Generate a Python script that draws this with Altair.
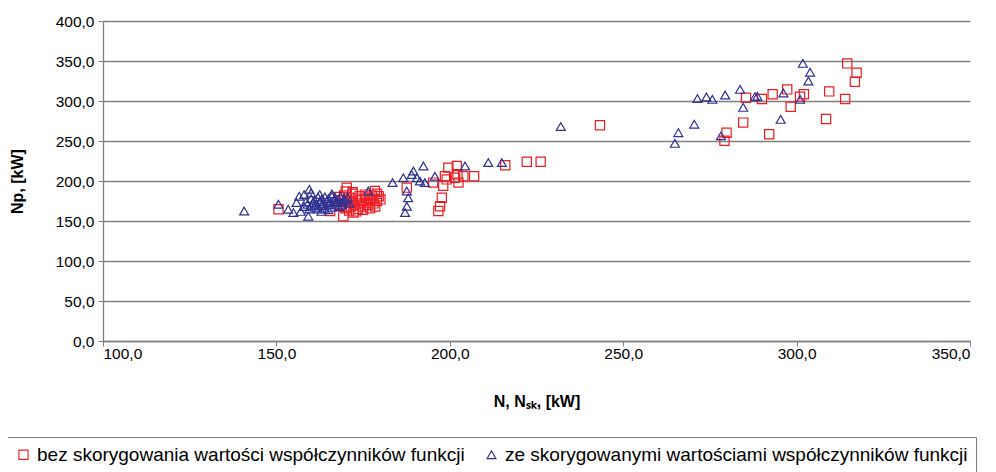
import altair as alt
import pandas as pd

series_names = [
    "bez skorygowania wartości współczynników funkcji",
    "ze skorygowanymi wartościami współczynników funkcji",
]

# red squares: bez skorygowania
red_n = [150.6, 165.5, 169.3, 170.3, 171.0, 173.0, 175.0, 177.0, 170.0, 172.0, 172.2,
         168.5, 169.0, 169.5, 170.0, 170.5, 171.0, 171.5, 172.0, 172.0, 172.5, 173.0,
         173.5, 174.0, 174.0, 174.5, 175.0, 175.5, 176.0, 176.0, 176.5, 177.0, 177.5,
         178.0, 178.0, 178.5, 179.0, 179.5, 179.0, 168.0, 180.0, 178.4,
         187.6, 195.2, 198.1, 197.7, 197.2, 196.7, 198.6, 199.6, 202.0, 202.2, 202.5,
         201.5, 199.1, 203.9, 207.0, 216.0, 222.2, 226.2, 243.3,
         279.8, 279.2, 284.6, 285.4, 290.0, 293.1, 297.3, 298.3, 301.0, 302.1, 292.1,
         309.4, 308.5, 314.0, 314.6, 317.3, 316.8]
red_np = [164.6, 162.5, 156.0, 191.7, 163.0, 162.0, 164.0, 166.0, 187.0, 186.0, 160.5,
          170.0, 176.0, 182.0, 166.0, 173.0, 179.0, 168.0, 175.0, 184.0, 170.0, 178.0,
          165.0, 172.0, 181.0, 176.0, 168.0, 183.0, 173.0, 179.0, 170.0, 176.0, 182.0,
          172.0, 178.0, 168.0, 175.0, 181.0, 184.0, 180.0, 177.0, 187.5,
          191.7, 198.0, 194.0, 179.0, 168.4, 162.5, 206.0, 216.7, 218.8, 208.4, 198.0,
          204.0, 202.0, 206.0, 206.0, 219.6, 224.0, 224.0, 269.6,
          260.4, 250.4, 273.0, 304.0, 302.4, 308.4, 314.5, 292.9, 305.4, 308.4, 258.4,
          312.0, 277.5, 302.4, 347.0, 335.4, 324.0]

# blue triangles: ze skorygowanymi
blue_n = [140.7, 150.6, 153.4, 154.9, 156.6, 155.8, 159.5, 159.2,
          158.0, 158.5, 159.0, 159.5, 160.0, 160.0, 160.5, 161.0, 161.0, 161.5, 162.0,
          162.0, 162.5, 163.0, 163.0, 163.5, 164.0, 164.0, 164.5, 165.0, 165.0, 165.5,
          166.0, 166.0, 166.5, 167.0, 167.0, 167.5, 168.0, 168.0, 168.5, 169.0, 169.5,
          170.0, 170.5, 171.0, 158.0, 157.0, 163.0, 165.0, 160.0, 162.5, 166.0, 169.0,
          176.5, 183.5, 186.6, 187.6, 187.1, 188.0, 187.6, 189.5, 192.4, 190.5, 191.4,
          192.8, 195.7, 189.0, 204.4, 211.1, 215.0, 232.0,
          264.9, 265.9, 270.5, 271.4, 274.0, 275.7, 279.4, 283.7, 284.6, 278.2, 288.0,
          288.7, 296.2, 295.4, 301.0, 301.8, 303.9, 303.4]
blue_np = [162.5, 170.9, 164.6, 160.5, 181.0, 173.0, 189.6, 156.0,
           168.0, 174.0, 171.0, 165.0, 178.0, 169.0, 173.0, 167.0, 176.0, 171.0, 180.0,
           165.0, 174.0, 169.0, 177.0, 172.0, 166.0, 180.0, 175.0, 170.0, 178.0, 173.0,
           167.0, 181.0, 176.0, 171.0, 179.0, 174.0, 168.0, 177.0, 181.0, 173.0, 178.0,
           175.0, 180.0, 172.0, 183.0, 162.0, 162.0, 164.0, 185.0, 183.0, 184.0, 170.0,
           187.5, 198.0, 204.0, 168.4, 160.5, 179.0, 187.5, 212.5, 218.8, 204.0, 200.0,
           198.0, 206.0, 208.0, 218.8, 223.0, 223.0, 268.0,
           247.0, 260.4, 271.0, 303.0, 305.0, 302.0, 307.5, 314.5, 292.0, 256.5, 305.4,
           306.0, 310.0, 277.0, 302.0, 347.0, 336.0, 325.0]

x_ticks = [100, 150, 200, 250, 300, 350]
y_ticks = [0, 50, 100, 150, 200, 250, 300, 350, 400]

df = pd.DataFrame({
    "N": red_n + blue_n,
    "Np": red_np + blue_np,
    "seria": [series_names[0]] * len(red_n) + [series_names[1]] * len(blue_n),
})

fmt = "replace(format(datum.value, '.1f'), '.', ',')"
font = "Liberation Sans"

legend_cfg = dict(title=None, orient="none", legendX=-97, legendY=416,
                  direction="horizontal", strokeColor="#808080",
                  padding=8, labelFontSize=19, symbolSize=50,
                  symbolStrokeWidth=1.1, columnPadding=17, labelLimit=0,
                  labelFont=font, labelOffset=4)

chart = alt.Chart(df).mark_point(filled=False, strokeWidth=1.2, opacity=1).encode(
    x=alt.X("N:Q",
            scale=alt.Scale(domain=[100, 350], nice=False, zero=False),
            axis=alt.Axis(values=x_ticks, labelExpr=fmt, title="N, Nₛₖ, [kW]",
                          grid=False, titlePadding=32, labelPadding=0,
                          tickSize=5)),
    y=alt.Y("Np:Q",
            scale=alt.Scale(domain=[0, 400], nice=False),
            axis=alt.Axis(values=y_ticks, labelExpr=fmt, title="Np, [kW]",
                          grid=True, titlePadding=30, labelPadding=4, tickSize=5)),
    shape=alt.Shape("seria:N",
                    scale=alt.Scale(domain=series_names, range=["square", "triangle-up"]),
                    legend=alt.Legend(**legend_cfg)),
    color=alt.Color("seria:N",
                    scale=alt.Scale(domain=series_names, range=["#ED1C24", "#2E3192"]),
                    legend=alt.Legend(**legend_cfg)),
    size=alt.Size("seria:N",
                  scale=alt.Scale(domain=series_names, range=[85, 80]),
                  legend=None),
).properties(
    width=867,
    height=320,
    autosize=alt.AutoSizeParams(type="none"),
    padding={"left": 95, "top": 13, "right": 18, "bottom": 131},
).configure_view(
    stroke=None
).configure_axis(
    labelFont=font, titleFont=font, labelFontSize=15.5, titleFontSize=16,
    titleFontWeight="bold", labelColor="#000000", titleColor="#000000",
    domainColor="#808080", tickColor="#808080", gridColor="#808080",
    gridWidth=1.3, domainWidth=1.3,
)

chart.save("out.html", embed_options={"renderer": "svg", "actions": False})
